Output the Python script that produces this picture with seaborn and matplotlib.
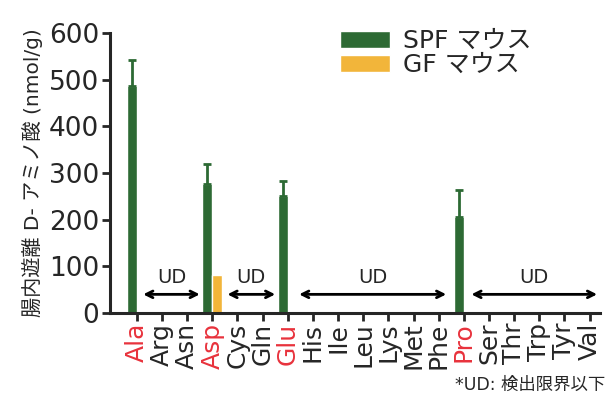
import matplotlib
matplotlib.use('Agg')
import matplotlib.pyplot as plt
import seaborn as sns
import pandas as pd

amino_acids = ['Ala', 'Arg', 'Asn', 'Asp', 'Cys', 'Gln', 'Glu', 'His', 'Ile', 'Leu',
               'Lys', 'Met', 'Phe', 'Pro', 'Ser', 'Thr', 'Trp', 'Tyr', 'Val']
spf_values = [486, 0, 0, 277, 0, 0, 250, 0, 0, 0, 0, 0, 0, 206, 0, 0, 0, 0, 0]
spf_errors = [56, 0, 0, 43, 0, 0, 34, 0, 0, 0, 0, 0, 0, 57, 0, 0, 0, 0, 0]
gf_values = [0, 0, 0, 82, 0, 0, 0, 0, 0, 0, 0, 0, 0, 0, 0, 0, 0, 0, 0]
red_labels = ['Ala', 'Asp', 'Glu', 'Pro']
groups = ['SPF マウス', 'GF マウス']
# UD ranges (start, end) in category units
ud_ranges = [(0.25, 2.5), (3.6, 5.5), (6.45, 12.3), (13.3, 18.3)]

sns.set_theme(style='ticks')
plt.rcParams['font.family'] = ['DejaVu Sans', 'Noto Sans CJK JP']

green = '#2d6a34'
orange = '#f2b53a'

df = pd.DataFrame({
    'aa': amino_acids * 2,
    'value': spf_values + gf_values,
    'group': [groups[0]] * len(amino_acids) + [groups[1]] * len(amino_acids),
})

fig = plt.figure(figsize=(6.06, 3.99), dpi=100)
ax = fig.add_axes([0.1815, 0.2155, 0.808, 0.7015])

sns.barplot(data=df, x='aa', y='value', hue='group', order=amino_acids,
            hue_order=groups, palette=[green, orange], width=0.8,
            errorbar=None, saturation=1, ax=ax)

# one-sided error bars on SPF bars
for bar, err in zip(ax.containers[0], spf_errors):
    if err > 0:
        cx = bar.get_x() + bar.get_width() / 2
        h = bar.get_height()
        ax.errorbar(cx, h, yerr=[[0], [err]], fmt='none', ecolor=green,
                    elinewidth=2, capsize=3, capthick=2)

# UD arrows
for x0, x1 in ud_ranges:
    ax.annotate('', xy=(x1, 40), xytext=(x0, 40),
                arrowprops=dict(arrowstyle='<->', color='black', lw=2,
                                mutation_scale=12, shrinkA=0, shrinkB=0))
    ax.text((x0 + x1) / 2, 56, 'UD', ha='center', va='bottom', fontsize=14)

ax.set_xlim(-1.07, 18.4)
ax.set_ylim(0, 600)
ax.set_yticks([0, 100, 200, 300, 400, 500, 600])
ax.set_xlabel('')
ax.set_ylabel('腸内遊離 D- アミノ酸 (nmol/g)', fontsize=14.5, labelpad=4)
ax.tick_params(axis='y', labelsize=19, width=2, length=6, pad=2)
ax.tick_params(axis='x', labelsize=18, width=2, length=6, rotation=90, pad=1)
for lbl in ax.get_xticklabels():
    if lbl.get_text() in red_labels:
        lbl.set_color('#e8323c')

for side in ['left', 'bottom']:
    ax.spines[side].set_linewidth(2.2)
sns.despine(ax=ax)

ax.legend(loc='upper left', bbox_to_anchor=(0.45, 1.05), frameon=False,
          fontsize=18, handlelength=2.0, handleheight=0.7, labelspacing=0.0,
          handletextpad=0.5, borderaxespad=0)

fig.text(0.998, 0.012, '*UD: 検出限界以下', ha='right', va='bottom', fontsize=12.5)

fig.savefig('out.png', dpi=100, facecolor='white')
